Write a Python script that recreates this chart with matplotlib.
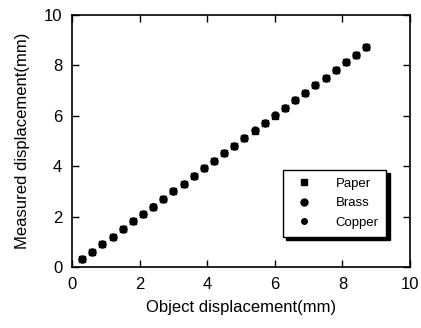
import matplotlib
matplotlib.use("Agg")
import matplotlib.pyplot as plt

# Data ------------------------------------------------------------------------
obj_disp = [0.3, 0.6, 0.9, 1.2, 1.5, 1.8, 2.1, 2.4, 2.7, 3.0,
            3.3, 3.6, 3.9, 4.2, 4.5, 4.8, 5.1, 5.4, 5.7, 6.0,
            6.3, 6.6, 6.9, 7.2, 7.5, 7.8, 8.1, 8.4, 8.7]
paper = [0.30, 0.60, 0.90, 1.21, 1.51, 1.81, 2.10, 2.40, 2.70, 3.00,
         3.31, 3.61, 3.92, 4.22, 4.51, 4.81, 5.12, 5.41, 5.71, 6.01,
         6.30, 6.61, 6.90, 7.21, 7.51, 7.82, 8.12, 8.42, 8.72]
brass = [0.31, 0.60, 0.91, 1.21, 1.51, 1.81, 2.11, 2.40, 2.71, 3.01,
         3.31, 3.62, 3.92, 4.22, 4.52, 4.82, 5.12, 5.42, 5.72, 6.02,
         6.31, 6.62, 6.91, 7.22, 7.52, 7.82, 8.13, 8.43, 8.74]
copper = [0.31, 0.61, 0.91, 1.21, 1.51, 1.82, 2.11, 2.41, 2.71, 3.01,
          3.31, 3.62, 3.92, 4.22, 4.52, 4.82, 5.12, 5.42, 5.72, 6.02,
          6.32, 6.62, 6.92, 7.22, 7.52, 7.83, 8.13, 8.43, 8.74]
ticks = [0, 2, 4, 6, 8, 10]

plt.rcParams["font.family"] = ["Liberation Sans", "DejaVu Sans"]

fig = plt.figure(figsize=(4.21, 3.28), dpi=100)
ax = fig.add_axes([0.171, 0.186, 0.803, 0.768])

ax.plot(obj_disp, paper, "s", color="black", markersize=4, label="Paper")
ax.plot(obj_disp, brass, "o", color="black", markersize=5, label="Brass")
ax.plot(obj_disp, copper, "o", color="black", markersize=4, label="Copper")

ax.set_xlim(0, 10)
ax.set_ylim(0, 10)
ax.set_xticks(ticks)
ax.set_yticks(ticks)
ax.tick_params(direction="in", top=True, right=True, length=5, width=1,
               labelsize=12, pad=7)
for s in ax.spines.values():
    s.set_linewidth(1.2)

ax.set_xlabel("Object displacement(mm)", fontsize=12, labelpad=6)
ax.set_ylabel("Measured displacement(mm)", fontsize=12, labelpad=10)

leg = ax.legend(loc="lower right", bbox_to_anchor=(0.93, 0.12),
                frameon=True, fancybox=False, fontsize=9.5,
                shadow={"color": "black", "alpha": 1, "ox": 2.5, "oy": -2.5},
                handletextpad=1.4, borderpad=0.6, labelspacing=0.55,
                handlelength=2.0, borderaxespad=0)
leg.get_frame().set_edgecolor("black")
leg.get_frame().set_linewidth(1.0)

fig.savefig("out.png", dpi=100)
